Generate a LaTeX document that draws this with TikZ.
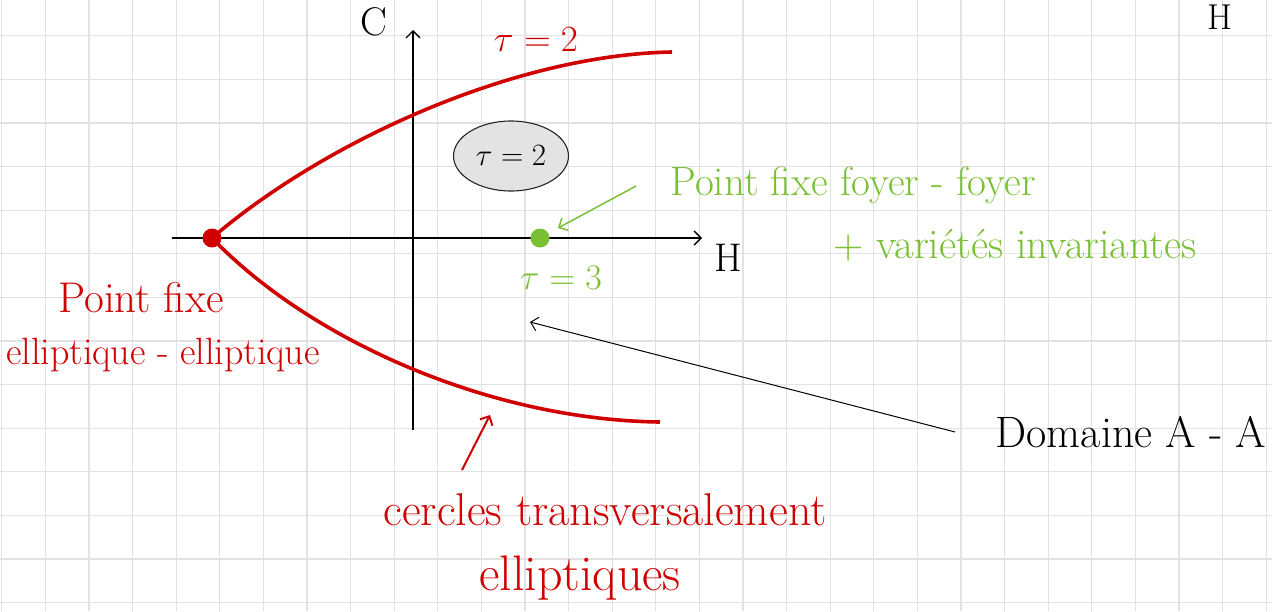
\RequirePackage{fix-cm}
\documentclass[tikz,border=0pt]{standalone}
\usepackage{tikz}
\usetikzlibrary{arrows.meta,shapes.geometric}
\definecolor{inkred}{RGB}{208,0,0}
\definecolor{inkgreen}{RGB}{122,192,52}
\definecolor{gridgray}{RGB}{226,226,226}
\newcommand{\bigfont}[1]{\fontsize{#1}{#1}\selectfont}

\begin{document}
\begin{tikzpicture}[x=1pt, y=-1pt, >={Straight Barb[length=7pt,width=14pt]},
  axis/.style={draw=black, line width=1.3pt, ->},
  redcurve/.style={draw=inkred, line width=3.6pt},
  dot/.style={circle, inner sep=0pt, minimum size=19pt},
  redtxt/.style={text=inkred, font=\bigfont{40}},
  greentxt/.style={text=inkgreen, font=\bigfont{41}},
  blacktxt/.style={text=black, font=\bigfont{38}}]
\useasboundingbox (0,0) rectangle (1272,611);
% grid paper
\foreach \gx in {0,...,29}
  \draw[gridgray, line width=1.2pt] ({1.7+43.6*\gx},0) -- ({1.7+43.6*\gx},611);
\foreach \gy in {0,...,13}
  \draw[gridgray, line width=1.2pt] (0,{35.7+43.6*\gy}) -- (1272,{35.7+43.6*\gy});
% axes
\coordinate (hstart) at (172,238);
\coordinate (hend) at (702,238);
\coordinate (cstart) at (413,430);
\coordinate (cend) at (413,30);
\draw[axis] (hstart) -- (hend);
\draw[axis] (cstart) -- (cend);
\node[blacktxt, font=\bigfont{40}] (clabel) at (374,22) {C};
\node[blacktxt, font=\bigfont{40}] (hlabel) at (728,258) {H};
\node[blacktxt, font=\bigfont{36}] (hcorner) at (1220,17) {H};
% fixed points
\node[dot, fill=inkred] (ellpt) at (212,238) {};
\node[dot, fill=inkgreen] (focpt) at (540,238) {};
% boundary curves
\coordinate (upend) at (672,52);
\coordinate (lowend) at (660,422);
\draw[redcurve] (ellpt.center) .. controls (320,145) and (510,55) .. (upend);
\draw[redcurve] (ellpt.center) .. controls (310,340) and (490,420) .. (lowend);
\node[redtxt, font=\bigfont{37}] (taured) at (536,40) {$\tau = 2$};
% region
\node[ellipse, draw=black!85, line width=1.1pt, fill=gray!22, inner sep=0pt, minimum width=115pt, minimum height=70pt, font=\bigfont{31}] (tauzone) at (511,156) {$\tau=2$};
\node[greentxt, font=\bigfont{36}] (taugreen) at (561,278) {$\tau = 3$};
% labels
\node[redtxt, font=\bigfont{43}] (ellabel1) at (141,298) {Point fixe};
\node[redtxt, font=\bigfont{38}] (ellabel2) at (163,355) {elliptique - elliptique};
\node[greentxt] (foclabel1) at (853,185) {Point fixe foyer - foyer};
\node[greentxt, font=\bigfont{42}] (foclabel2) at (1015,245) {+ vari\'et\'es invariantes};
\node[blacktxt, font=\bigfont{44}] (domaine) at (1131,432) {Domaine A - A};
\node[redtxt, font=\bigfont{46}] (circlabel1) at (605,510) {cercles transversalement};
\node[redtxt, font=\bigfont{50}] (circlabel2) at (580,578) {elliptiques};
% pointers
\coordinate (gtail) at (636,186);
\coordinate (ghead) at (558,228);
\draw[->, inkgreen, line width=1.5pt] (gtail) -- (ghead);
\coordinate (dtail) at (955,432);
\coordinate (dhead) at (530,322);
\draw[->, black, line width=1pt] (dtail) -- (dhead);
\coordinate (rtail) at (462,470);
\coordinate (rhead) at (490,415);
\draw[->, inkred, line width=2pt] (rtail) -- (rhead);
\end{tikzpicture}
\end{document}
